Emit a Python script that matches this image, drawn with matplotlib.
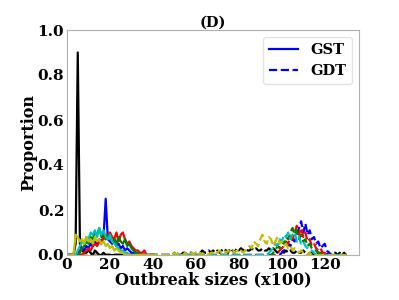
import numpy as np
import matplotlib
matplotlib.use("Agg")
import matplotlib.pyplot as plt

# Outbreak size bins (x100)
gst_sizes = np.arange(0, 41)
gdt_sizes = np.arange(0, 131)
gdt_start = 50  # first bin where GDT series leave zero

colors = ['k', 'b', 'r', 'g', 'c', 'y']

gst_black = [0, 0, 0, 0, 0.05, 0.90, 0.05, 0.02, 0.01, 0.01, 0.02, 0.01, 0, 0.02, 0.01, 0, 0, 0.01, 0, 0,
             0, 0, 0, 0, 0, 0, 0, 0, 0, 0, 0, 0, 0, 0, 0, 0, 0, 0, 0, 0, 0]
gst_blue = [0, 0, 0, 0, 0, 0, 0.02, 0.03, 0.02, 0.04, 0.03, 0.05, 0.04, 0.06, 0.05, 0.07, 0.06, 0.08, 0.25, 0.07,
            0.06, 0.05, 0.07, 0.04, 0.05, 0.03, 0.04, 0.02, 0.03, 0.02, 0.01, 0.01, 0.01, 0, 0, 0, 0, 0, 0, 0, 0]
gst_red = [0, 0, 0, 0, 0, 0, 0, 0, 0.01, 0.02, 0.03, 0.02, 0.04, 0.05, 0.04, 0.06, 0.05, 0.08, 0.07, 0.09,
           0.10, 0.08, 0.07, 0.10, 0.06, 0.09, 0.10, 0.07, 0.05, 0.06, 0.04, 0.03, 0.02, 0.02, 0.01, 0.01, 0.02, 0, 0, 0, 0]
gst_green = [0, 0, 0, 0, 0, 0, 0.01, 0.03, 0.04, 0.06, 0.05, 0.08, 0.07, 0.10, 0.09, 0.12, 0.08, 0.10, 0.07, 0.09,
             0.08, 0.06, 0.07, 0.05, 0.08, 0.06, 0.05, 0.07, 0.04, 0.05, 0.03, 0.02, 0.01, 0.01, 0, 0, 0, 0, 0, 0, 0]
gst_cyan = [0, 0, 0, 0, 0, 0.02, 0.04, 0.06, 0.05, 0.08, 0.07, 0.10, 0.09, 0.11, 0.08, 0.12, 0.09, 0.11, 0.08, 0.07,
            0.09, 0.06, 0.05, 0.04, 0.03, 0.02, 0.02, 0.01, 0.01, 0, 0, 0, 0, 0, 0, 0, 0, 0, 0, 0, 0]
gst_yellow = [0, 0, 0, 0, 0.09, 0.08, 0.06, 0.07, 0.05, 0.08, 0.06, 0.07, 0.05, 0.08, 0.06, 0.07, 0.05, 0.06, 0.04, 0.05,
              0.03, 0.04, 0.02, 0.03, 0.02, 0.01, 0.01, 0, 0, 0, 0, 0, 0, 0, 0, 0, 0, 0, 0, 0, 0]

# GDT values from bin 50 to 130 (81 values)
gdt_black = [0.01, 0, 0.01, 0, 0.01, 0.01, 0, 0.01, 0.01, 0, 0.01, 0.01, 0.01, 0.02, 0.01, 0.01, 0.02, 0.01, 0.02, 0.01,
             0.02, 0.01, 0.02, 0.03, 0.02, 0.01, 0.03, 0.02, 0.01, 0.03, 0.02, 0.03, 0.02, 0.03, 0.02, 0.02, 0.03, 0.02, 0.03, 0.02,
             0.02, 0.03, 0.02, 0.02, 0.03, 0.02, 0.03, 0.02, 0.01, 0.02, 0.02, 0.01, 0.02, 0.01, 0.02, 0.01, 0.01, 0.02, 0.01, 0.01,
             0.02, 0.01, 0, 0.01, 0.01, 0, 0.01, 0.01, 0, 0.01, 0.01, 0, 0.01, 0, 0.01, 0.01, 0, 0.01, 0, 0.01, 0]
gdt_blue = [0] * 50 + [0.01, 0.02, 0.03, 0.05, 0.04, 0.07, 0.06, 0.09, 0.12, 0.15, 0.10, 0.14, 0.09, 0.11, 0.07, 0.08, 0.05,
                       0.06, 0.03, 0.04, 0.05, 0.02, 0.01, 0, 0, 0, 0, 0, 0, 0, 0]
gdt_red = [0] * 48 + [0.01, 0.02, 0.03, 0.04, 0.06, 0.05, 0.08, 0.07, 0.10, 0.13, 0.09, 0.12, 0.08, 0.10, 0.06, 0.07,
                      0.04, 0.05, 0.03, 0.02, 0.03, 0.01, 0.01, 0, 0, 0, 0, 0, 0, 0, 0, 0, 0]
gdt_green = [0] * 46 + [0.01, 0.02, 0.04, 0.03, 0.06, 0.05, 0.08, 0.07, 0.10, 0.12, 0.09, 0.11, 0.07, 0.09, 0.06, 0.07,
                        0.04, 0.05, 0.03, 0.02, 0.02, 0.01, 0.01, 0, 0, 0, 0, 0, 0, 0, 0, 0, 0, 0, 0]
gdt_cyan = [0] * 44 + [0.01, 0.02, 0.03, 0.05, 0.04, 0.07, 0.06, 0.09, 0.08, 0.10, 0.07, 0.09, 0.10, 0.06, 0.08, 0.05,
                       0.06, 0.04, 0.03, 0.02, 0.02, 0.01, 0, 0, 0, 0, 0, 0, 0, 0, 0, 0, 0, 0, 0, 0, 0]
gdt_yellow = [0.01, 0, 0.01, 0, 0, 0.01, 0, 0, 0.01, 0, 0.01, 0, 0.01, 0, 0.01, 0.01, 0, 0.01, 0.01, 0.02,
              0.01, 0.02, 0.01, 0.02, 0.01, 0.02, 0.01, 0.02, 0.01, 0.02, 0.01, 0.02, 0.01, 0.02, 0.03, 0.04, 0.03, 0.06, 0.05, 0.04,
              0.07, 0.09, 0.06, 0.05, 0.08, 0.07, 0.04, 0.06, 0.08, 0.05, 0.06, 0.04, 0.05, 0.03, 0.04, 0.02, 0.03, 0.02, 0.01, 0.02,
              0.01, 0.01, 0, 0.01, 0, 0, 0, 0, 0, 0, 0, 0, 0, 0, 0, 0, 0, 0, 0, 0, 0]

gst_series = [gst_black, gst_blue, gst_red, gst_green, gst_cyan, gst_yellow]
gdt_series = [gdt_black, gdt_blue, gdt_red, gdt_green, gdt_cyan, gdt_yellow]

plt.rcParams['font.family'] = 'DejaVu Serif'
plt.rcParams['font.weight'] = 'bold'

fig = plt.figure(figsize=(3.99, 3.0), dpi=100)
ax = fig.add_axes([0.168, 0.15, 0.732, 0.75])

for c, vals in zip(colors, gdt_series):
    full = np.concatenate([np.zeros(gdt_start), np.array(vals, dtype=float)])
    ax.plot(gdt_sizes, full, color=c, lw=1.6, ls='--')
for c, vals in zip(colors, gst_series):
    ax.plot(gst_sizes, vals, color=c, lw=1.6, ls='-')

ax.plot([], [], color='b', lw=1.6, ls='-', label='GST')
ax.plot([], [], color='b', lw=1.6, ls='--', label='GDT')

ax.set_xlim(0, 136)
ax.set_ylim(0, 1.0)
ax.set_xticks([0, 20, 40, 60, 80, 100, 120])
ax.set_yticks([0.0, 0.2, 0.4, 0.6, 0.8, 1.0])
ax.tick_params(length=0, pad=2, labelsize=11)
for lab in ax.get_xticklabels() + ax.get_yticklabels():
    lab.set_fontweight('bold')
for s in ax.spines.values():
    s.set_color('#b0b0b0')
    s.set_linewidth(0.8)

ax.set_xlabel('Outbreak sizes (x100)', fontsize=11.5, fontweight='bold', labelpad=0)
ax.set_ylabel('Proportion', fontsize=11.5, fontweight='bold', labelpad=0)
ax.set_title('(D)', fontsize=10.5, fontweight='bold', pad=2)
leg = ax.legend(loc='upper right', prop={'weight': 'bold', 'size': 10.5}, handlelength=2.0,
                frameon=True, fancybox=True)
leg.get_frame().set_edgecolor('#dddddd')

fig.savefig('out.png', dpi=100)
